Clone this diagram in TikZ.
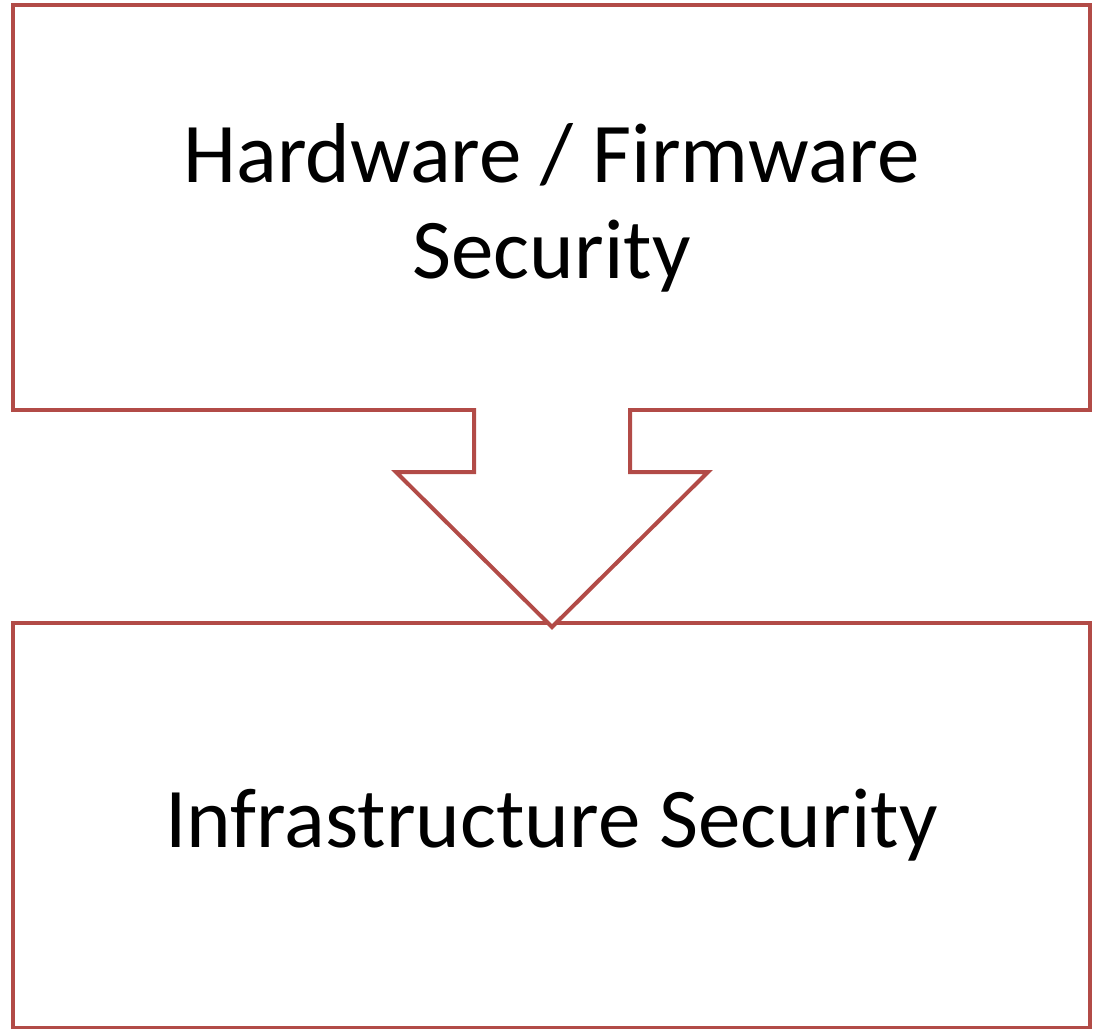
\documentclass[tikz,border=0pt]{standalone}
\usepackage{fontspec}
\setmainfont{Carlito}
\definecolor{boxred}{RGB}{178,75,71}
\begin{document}
\begin{tikzpicture}[x=1pt,y=-1pt,
  boxstyle/.style={draw=boxred,line width=4pt,fill=white,inner sep=0pt,
    minimum width=1077pt,minimum height=405pt,align=center,
    font=\fontsize{85}{96}\selectfont},
  arrowline/.style={draw=boxred,line width=4pt,line join=miter}]
\useasboundingbox (0,0) rectangle (1097,1028);
\node[boxstyle] (top) at (551.5,207.5) {Hardware / Firmware\\Security};
\node[boxstyle] (bottom) at (551.5,825) {Infrastructure Security};
% arrow geometry
\coordinate (sl) at (474,408);
\coordinate (sr) at (630,408);
\coordinate (nl) at (474,472);
\coordinate (nr) at (630,472);
\coordinate (hl) at (396,472);
\coordinate (hr) at (708,472);
\coordinate (tip) at (552,627);
\fill[white] (474,404) -- (nl) -- (hl) -- (tip) -- (hr) -- (nr) -- (630,404) -- cycle;
\draw[arrowline] (sl) -- (nl) -- (hl) -- (tip) -- (hr) -- (nr) -- (sr);
\end{tikzpicture}
\end{document}
